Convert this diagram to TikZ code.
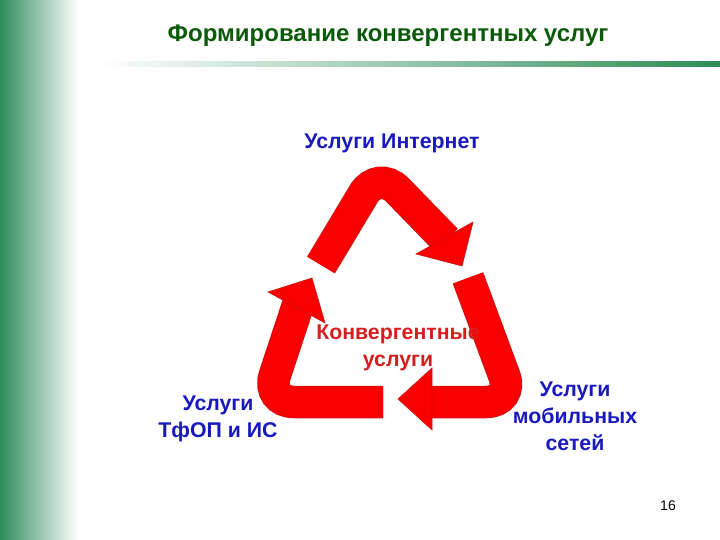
\documentclass[tikz,border=0pt]{standalone}
\usepackage{fontspec}
\setmainfont{Liberation Sans}
\usetikzlibrary{shadings}
\definecolor{gr}{RGB}{46,140,90}
\definecolor{tgreen}{RGB}{10,90,10}
\definecolor{lblue}{RGB}{25,25,190}
\definecolor{ared}{RGB}{250,0,0}
\definecolor{ared2}{RGB}{200,20,20}
\definecolor{kred}{RGB}{215,30,30}
\tikzset{
 band/.style={line width=31pt, ared, rounded corners=28pt, line cap=butt},
 bandedge/.style={line width=32.5pt, ared2, rounded corners=28pt, line cap=butt},
 head/.style={fill=ared, draw=ared2, line width=0.6pt, line join=miter},
 lbl/.style={font=\bfseries\fontsize{21.3}{27}\selectfont, align=center, text=lblue}
}
\begin{document}
\begin{tikzpicture}[x=1pt,y=-1pt]
\useasboundingbox (0,0) rectangle (720,540);
\fill[white] (0,0) rectangle (720,540);
\shade[left color=gr, right color=white] (0,0) rectangle (78,540);
\shade[left color=white, right color=gr] (100,62) rectangle (720,67);
\node (title) at (388,36) {\bfseries\fontsize{24}{28}\selectfont\color{tgreen}Формирование конвергентных услуг};
% top arrow
\coordinate (t1) at (321,265); \coordinate (t2) at (378,170); \coordinate (t3) at (446,240);
\draw[bandedge] (t1) -- (t2) -- (t3);
\draw[band] (t1) -- (t2) -- (t3);
\coordinate (th) at (462,266); \coordinate (tb1) at (416,254); \coordinate (tb2) at (473,222);
\draw[head] (th) -- (tb1) -- (tb2) -- cycle;
% right arrow
\coordinate (r1) at (468,278); \coordinate (r2) at (514,402); \coordinate (r3) at (430,402);
\draw[bandedge] (r1) -- (r2) -- (r3);
\draw[band] (r1) -- (r2) -- (r3);
\coordinate (rh) at (398,399); \coordinate (rb1) at (432,368); \coordinate (rb2) at (432,430);
\draw[head] (rh) -- (rb1) -- (rb2) -- cycle;
% left arrow
\coordinate (l1) at (383,402); \coordinate (l2) at (266,402); \coordinate (l3) at (298,305);
\draw[bandedge] (l1) -- (l2) -- (l3);
\draw[band] (l1) -- (l2) -- (l3);
\coordinate (lh) at (312,278); \coordinate (lb1) at (268,292); \coordinate (lb2) at (325,323);
\draw[head] (lh) -- (lb1) -- (lb2) -- cycle;
% labels
\node[lbl] (inet) at (392,143) {Услуги Интернет};
\node[lbl] (tfop) at (218,419) {Услуги\\ТфОП и ИС};
\node[lbl] (mob) at (575,416) {Услуги\\мобильных\\сетей};
\node[lbl, text=kred] (conv) at (398,348) {Конвергентные\\услуги};
\node (num) at (668,506) {\fontsize{14}{16}\selectfont 16};
\end{tikzpicture}
\end{document}
